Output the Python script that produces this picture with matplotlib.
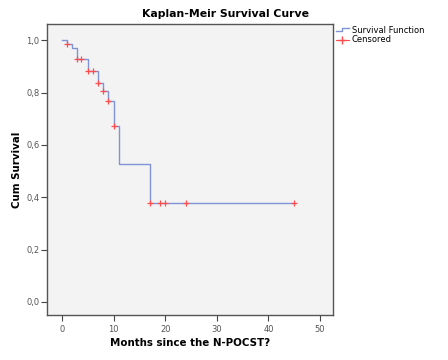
import matplotlib
matplotlib.use("Agg")
import matplotlib.pyplot as plt
from matplotlib.lines import Line2D
from matplotlib.legend_handler import HandlerLine2D
from matplotlib.ticker import FuncFormatter

# Data
step_times = [0, 1, 2, 3, 5, 7, 8, 9, 10, 11, 17, 45]
step_surv = [1.0, 0.984, 0.971, 0.930, 0.882, 0.835, 0.805, 0.768, 0.672, 0.526, 0.377, 0.377]
censor_times = [1, 3, 3.7, 5, 6, 7, 8, 9, 10, 17, 19, 20, 24, 45]
censor_surv = [0.984, 0.930, 0.930, 0.882, 0.882, 0.835, 0.805, 0.768, 0.672,
               0.377, 0.377, 0.377, 0.377, 0.377]
x_ticks = [0, 10, 20, 30, 40, 50]
y_ticks = [0.0, 0.2, 0.4, 0.6, 0.8, 1.0]

line_color = '#7f93d6'
cens_color = '#ff4d4d'

fig = plt.figure(figsize=(4.48, 3.6), dpi=100)
ax = fig.add_axes([47/448, 1-315/360, (333-47)/448, (315-24)/360])
ax.set_facecolor('#f3f3f3')

ax.step(step_times, step_surv, where='post', color=line_color, lw=1.0)
ax.plot(censor_times, censor_surv, ls='none', marker='+', color=cens_color,
        markersize=5, markeredgewidth=0.9)

ax.set_xlim(-2.9, 52.5)
ax.set_ylim(-0.05, 1.062)
ax.set_xticks(x_ticks)
ax.set_yticks(y_ticks)
ax.xaxis.set_major_formatter(FuncFormatter(lambda v, p: f"{int(v)}"))
ax.yaxis.set_major_formatter(FuncFormatter(lambda v, p: f"{v:.1f}".replace('.', ',')))
ax.tick_params(axis='both', direction='out', length=4, width=0.8, color='#444444',
               labelsize=6, labelcolor='#555555', pad=1.5)
ax.tick_params(axis='x', pad=3)
for s in ax.spines.values():
    s.set_color('#555555')
    s.set_linewidth(1.0)

ax.set_xlabel('Months since the N-POCST?', fontsize=7.4, fontweight='bold', labelpad=3)
ax.set_ylabel('Cum Survival', fontsize=7.4, fontweight='bold', labelpad=3)
fig.text(225/448, 1-14/360, 'Kaplan-Meir Survival Curve', ha='center', va='center',
         fontsize=7.8, fontweight='bold')


class StepHandler(HandlerLine2D):
    def create_artists(self, legend, orig_handle, xdescent, ydescent, width, height,
                       fontsize, trans):
        y0 = height / 2 - ydescent
        xs = [-xdescent, -xdescent + width * 0.5, -xdescent + width * 0.5, -xdescent + width]
        ys = [y0 - height * 0.25, y0 - height * 0.25, y0 + height * 0.25, y0 + height * 0.25]
        ln = Line2D(xs, ys, color=orig_handle.get_color(), lw=1.0)
        ln.set_transform(trans)
        return [ln]


h1 = Line2D([], [], color=line_color, lw=1.0)
h2 = Line2D([], [], color=cens_color, lw=0.8, marker='+', markersize=6)
leg = fig.legend([h1, h2], ['Survival Function', 'Censored'],
                 loc='upper left', bbox_to_anchor=(334/448, 1-24/360),
                 frameon=False, fontsize=6, handlelength=1.6, handletextpad=0.3,
                 labelspacing=0.1, borderpad=0.2, borderaxespad=0,
                 handler_map={h1: StepHandler()})

fig.savefig('out.png', dpi=100, facecolor='white')
